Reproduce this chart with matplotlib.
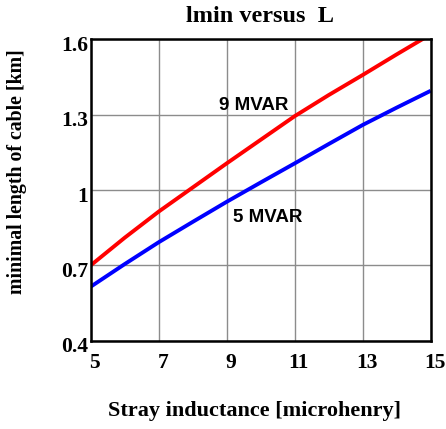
import matplotlib
matplotlib.use("Agg")
import matplotlib.pyplot as plt
import matplotlib.transforms as mtransforms

# Data
inductance = [5, 6, 7, 8, 9, 10, 11, 12, 13, 14, 15]
lmin_9mvar = [0.700, 0.810, 0.914, 1.010, 1.106, 1.200, 1.294, 1.378, 1.458, 1.540, 1.620]
lmin_5mvar = [0.615, 0.705, 0.792, 0.873, 0.953, 1.030, 1.106, 1.183, 1.259, 1.328, 1.395]
xticks = [5, 7, 9, 11, 13, 15]
yticks = [0.4, 0.7, 1.0, 1.3, 1.6]
ytick_labels = ["0.4", "0.7", "1", "1.3", "1.6"]

W, H = 446, 429
fig = plt.figure(figsize=(W / 100, H / 100), dpi=100)
ax = fig.add_axes([90.7 / W, 1 - 340.7 / H, (430.7 - 90.7) / W, (340.7 - 39.3) / H])

serif = "Liberation Serif"
sans = "Liberation Sans"

ax.plot(inductance, lmin_9mvar, color="#ff0000", lw=2.8, solid_capstyle="butt", zorder=3)
ax.plot(inductance, lmin_5mvar, color="#0000ff", lw=2.8, solid_capstyle="butt", zorder=3)

ax.set_xlim(5, 15)
ax.set_ylim(0.4, 1.6)
ax.set_xticks(xticks)
ax.set_yticks(yticks)
ax.set_xticklabels([str(v) for v in xticks], fontfamily=serif, fontweight="bold", fontsize=15.5)
ax.set_yticklabels(ytick_labels, fontfamily=serif, fontweight="bold", fontsize=15.5)
ax.tick_params(axis="both", length=0)
ax.tick_params(axis="x", pad=9)
ax.tick_params(axis="y", pad=2)

dx = mtransforms.ScaledTranslation(4 / 100, 0, fig.dpi_scale_trans)
for lab in ax.get_xticklabels():
    lab.set_transform(lab.get_transform() + dx)
dy = mtransforms.ScaledTranslation(0, -4 / 100, fig.dpi_scale_trans)
for lab in ax.get_yticklabels():
    lab.set_transform(lab.get_transform() + dy)

ax.grid(True, color="#8c8c8c", lw=1.0)
for s in ax.spines.values():
    s.set_linewidth(1.8)
    s.set_color("black")
    s.set_zorder(4)

ax.text(9.8, 1.335, "9 MVAR", fontfamily=sans, fontweight="bold", fontsize=13.5,
        ha="center", va="center")
ax.text(10.22, 0.89, "5 MVAR", fontfamily=sans, fontweight="bold", fontsize=13.5,
        ha="center", va="center")

fig.text(260 / W, 1 - 17 / H, "lmin versus  L", fontfamily=serif, fontweight="bold",
         fontsize=17.5, ha="center", va="center")
fig.text(255 / W, 1 - 411 / H, "Stray inductance [microhenry]", fontfamily=serif,
         fontweight="bold", fontsize=16, ha="center", va="center")
fig.text(17 / W, 1 - 172 / H, "minimal length of cable [km]", fontfamily=serif,
         fontweight="bold", fontsize=14.3, ha="center", va="center", rotation=90)

fig.savefig("out.png", dpi=100)
